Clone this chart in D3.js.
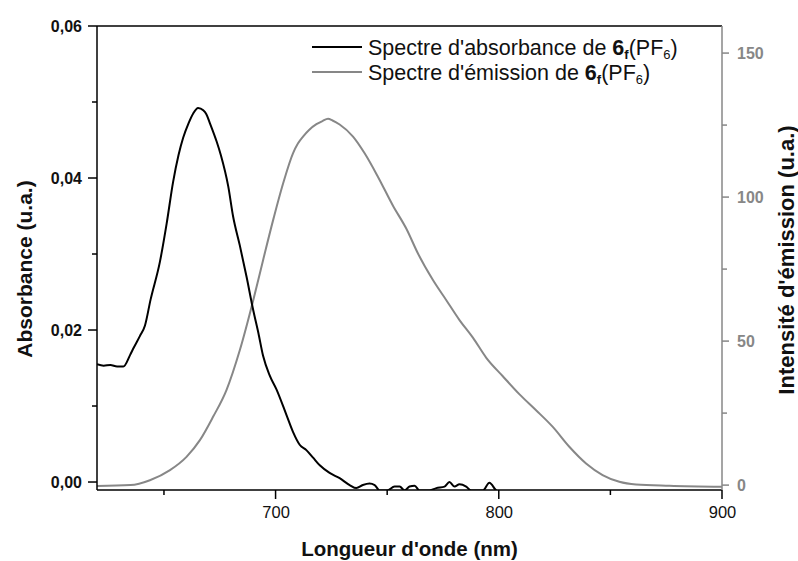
<!DOCTYPE html>
<html><head><meta charset="utf-8">
<script src="https://cdn.jsdelivr.net/npm/d3@7"></script>
<style>
html,body{margin:0;padding:0;background:#fff;}
svg text{font-family:"Liberation Sans",Arial,sans-serif;}
</style></head>
<body><svg id="c" width="798" height="561"></svg>
<script>
// ---- data ----
const absWavelength = [620,623,626,629,631.8,634.8,636.5,639.2,641.5,644,648.2,651.2,654.1,656.5,658.6,661,663.1,665.3,667.6,669,670.6,673.6,675.5,678.8,681,684,687,690,692.3,694.4,697.4,700.4,704.9,707.8,710.8,713.8,716.8,719.8,724.2,728.7,733.2,736.2,739.1,742.1,744.4,746.6,750,753.3,755.6,757.8,760,762.3,764.5,769,772,775.7,777.9,780.2,782.4,785.4,787.6,792.9,795.8,798.8,801,850,900];
const absValues = [0.0155,0.0153,0.0154,0.0152,0.0152,0.0167,0.0177,0.0192,0.0206,0.0240,0.0290,0.0340,0.0395,0.0430,0.0453,0.0472,0.0485,0.0492,0.0489,0.0484,0.0472,0.0448,0.0430,0.0389,0.0349,0.0311,0.0270,0.0226,0.0196,0.0166,0.0140,0.0122,0.0088,0.0066,0.0049,0.0042,0.0032,0.0022,0.0012,0.0005,-0.0004,-0.0008,-0.0004,-0.0002,-0.0004,-0.0011,-0.0011,-0.0006,-0.0006,-0.0011,-0.0006,-0.0005,-0.0011,-0.0011,-0.0008,-0.0006,0.0000,-0.0006,-0.0003,-0.0006,-0.0011,-0.0011,-0.0001,-0.0011,-0.0015,-0.0015,-0.0015];
const emWavelength = [620,635,643.7,652.7,660.1,666.1,672,678,684,690,694.4,698.9,703.4,707.8,710,712.3,715,718.3,721,723.5,725.5,728.7,734.7,739.9,745.9,752.6,758.6,763.8,770.5,776.5,782.4,788.4,794.4,801.8,809.3,816.7,824.2,831.6,839.1,846.5,854,861.5,876.4,900];
const emValues = [-0.3,0,1.7,5.2,9.8,15.6,23.7,33,46.9,64.2,78.1,92,104.8,115.2,118.6,121,123.3,125.3,126.4,127.2,126.6,125.2,121,115.2,107,97,89,80.4,71.2,64.2,57.3,51.2,44.2,37.8,31.5,26,20.2,13.3,7.5,3.5,1.16,0.23,-0.23,-0.6];
const xTicks = [700,800,900];
const xMinorTicks = [650,750,850];
const yLeftTicks = [0,0.02,0.04,0.06];
const yLeftMinor = [0.01,0.03,0.05];
const yRightTicks = [0,50,100,150];
const yRightMinor = [25,75,125];
const legendNames = ["Spectre d'absorbance de ","Spectre d'émission de "];
const seriesColors = ["#000000","#878787"];

// ---- layout ----
const L=97,R=722,T=26,B=490;
const svg=d3.select("#c");
const x=d3.scaleLinear().domain([620,900]).range([L,R]);
const yL=d3.scaleLinear().domain([-0.00105,0.06]).range([B,T]);
const yR=d3.scaleLinear().domain([-1.7,159.4]).range([B,T]);
const fmt=d=>d3.format(".2f")(d).replace(".",",");
const FF="Liberation Sans, Arial, sans-serif";

svg.append("defs").append("clipPath").attr("id","clip")
  .append("rect").attr("x",L).attr("y",T).attr("width",R-L).attr("height",B-T);

// lines
const absData=absWavelength.map((w,i)=>[w,absValues[i]]);
const emData=emWavelength.map((w,i)=>[w,emValues[i]]);
const g=svg.append("g").attr("clip-path","url(#clip)");
g.append("path").datum(emData).attr("fill","none").attr("stroke",seriesColors[1]).attr("stroke-width",2)
  .attr("d",d3.line().x(d=>x(d[0])).y(d=>yR(d[1])).curve(d3.curveMonotoneX));
g.append("path").datum(absData).attr("fill","none").attr("stroke",seriesColors[0]).attr("stroke-width",2)
  .attr("d",d3.line().x(d=>x(d[0])).y(d=>yL(d[1])).curve(d3.curveMonotoneX));

// frame / axis lines
svg.append("line").attr("x1",L).attr("x2",R).attr("y1",T).attr("y2",T).attr("stroke","#000").attr("stroke-width",1.5);

// bottom axis
const gx=svg.append("g").attr("transform",`translate(0,${B})`)
  .call(d3.axisBottom(x).tickValues(xTicks).tickSize(9).tickPadding(7).tickFormat(d3.format("d")));
gx.select(".domain").remove();
gx.selectAll(".tick line").remove();
gx.selectAll("text").attr("font-size",16.5).attr("fill","#111").attr("font-family",FF);
const bx=svg.append("g");
bx.append("line").attr("x1",L).attr("x2",R).attr("y1",B).attr("y2",B).attr("stroke","#000").attr("stroke-width",1.5);
bx.selectAll(".maj").data(xTicks).join("line").attr("x1",d=>x(d)).attr("x2",d=>x(d)).attr("y1",B).attr("y2",B+9).attr("stroke","#000").attr("stroke-width",1.5);
bx.selectAll(".min").data(xMinorTicks).join("line").attr("class","min").attr("x1",d=>x(d)).attr("x2",d=>x(d)).attr("y1",B).attr("y2",B+5).attr("stroke","#000").attr("stroke-width",1.5);

// left axis
const gl=svg.append("g").attr("transform",`translate(${L},0)`)
  .call(d3.axisLeft(yL).tickValues(yLeftTicks).tickSize(9).tickPadding(6).tickFormat(fmt));
gl.select(".domain").remove();
gl.selectAll(".tick line").remove();
gl.selectAll("text").attr("font-size",16).attr("font-weight","bold").attr("fill","#111").attr("font-family",FF);
const bl=svg.append("g");
bl.append("line").attr("x1",L).attr("x2",L).attr("y1",T).attr("y2",B).attr("stroke","#000").attr("stroke-width",1.5);
bl.selectAll(".maj").data(yLeftTicks).join("line").attr("x1",L-9).attr("x2",L).attr("y1",d=>yL(d)).attr("y2",d=>yL(d)).attr("stroke","#000").attr("stroke-width",1.5);
bl.selectAll(".min").data(yLeftMinor).join("line").attr("class","min").attr("x1",L-5).attr("x2",L).attr("y1",d=>yL(d)).attr("y2",d=>yL(d)).attr("stroke","#000").attr("stroke-width",1.5);

// right axis
const gr=svg.append("g").attr("transform",`translate(${R},0)`)
  .call(d3.axisRight(yR).tickValues(yRightTicks).tickSize(7).tickPadding(8).tickFormat(d3.format("d")));
gr.select(".domain").remove();
gr.selectAll(".tick line").remove();
gr.selectAll("text").attr("font-size",16).attr("font-weight","bold").attr("fill",seriesColors[1]).attr("font-family",FF);
const br=svg.append("g");
br.append("line").attr("x1",R).attr("x2",R).attr("y1",T).attr("y2",B).attr("stroke",seriesColors[1]).attr("stroke-width",1.5);
br.selectAll(".maj").data(yRightTicks).join("line").attr("x1",R).attr("x2",R+7).attr("y1",d=>yR(d)).attr("y2",d=>yR(d)).attr("stroke",seriesColors[1]).attr("stroke-width",1.5);
br.selectAll(".min").data(yRightMinor).join("line").attr("class","min").attr("x1",R).attr("x2",R+5).attr("y1",d=>yR(d)).attr("y2",d=>yR(d)).attr("stroke",seriesColors[1]).attr("stroke-width",1.5);

// axis titles
svg.append("text").attr("x",(L+R)/2).attr("y",556).attr("text-anchor","middle")
  .attr("font-size",20.5).attr("font-weight","bold").attr("fill","#111").text("Longueur d'onde (nm)");
svg.append("text").attr("transform","translate(32,269) rotate(-90)").attr("text-anchor","middle")
  .attr("font-size",21).attr("font-weight","bold").attr("fill","#111").text("Absorbance (u.a.)");
svg.append("text").attr("transform","translate(794,260) rotate(-90)").attr("text-anchor","middle")
  .attr("font-size",22).attr("font-weight","bold").attr("fill","#111").text("Intensité d'émission (u.a.)");

// legend
const legY=[47,72];
legendNames.forEach((name,i)=>{
  svg.append("line").attr("x1",312).attr("x2",362).attr("y1",legY[i]).attr("y2",legY[i])
    .attr("stroke",seriesColors[i]).attr("stroke-width",2);
  const t=svg.append("text").attr("x",368).attr("y",legY[i]+8).attr("font-size",21.5).attr("fill","#111");
  t.append("tspan").text(name);
  t.append("tspan").attr("font-weight","bold").text("6");
  t.append("tspan").attr("font-weight","bold").attr("font-size",13).attr("dy",4).text("f");
  t.append("tspan").attr("dy",-4).text("(PF");
  t.append("tspan").attr("font-size",13).attr("dy",4).text("6");
  t.append("tspan").attr("dy",-4).text(")");
});
</script></body></html>
